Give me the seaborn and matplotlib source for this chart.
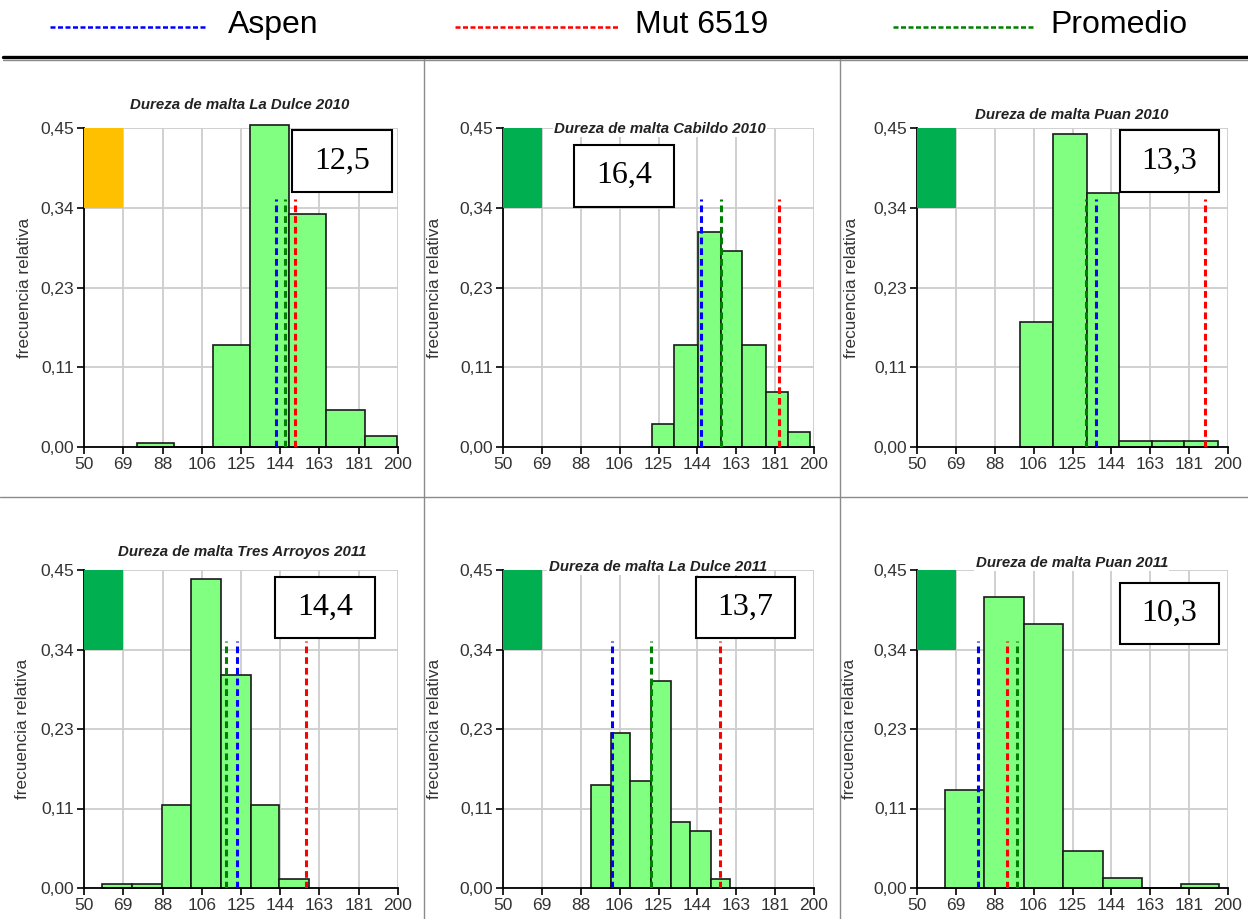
import matplotlib
matplotlib.use("Agg")
import matplotlib.pyplot as plt
import seaborn as sns
import numpy as np
import pandas as pd
from matplotlib.patches import Rectangle
from matplotlib.lines import Line2D

sns.set_theme(style="white")
plt.rcParams['font.family'] = ['Liberation Sans', 'DejaVu Sans']

# Axis scales shared by every panel
x_ticks = [50, 68.75, 87.5, 106.25, 125, 143.75, 162.5, 181.25, 200]
x_tick_labels = ["50", "69", "88", "106", "125", "144", "163", "181", "200"]
y_ticks = [0, 0.1125, 0.225, 0.3375, 0.45]
y_tick_labels = ["0,00", "0,11", "0,23", "0,34", "0,45"]

# Panel titles and the value shown in each box
titles = [
    "Dureza de malta La Dulce 2010",
    "Dureza de malta Cabildo 2010",
    "Dureza de malta Puan 2010",
    "Dureza de malta Tres Arroyos 2011",
    "Dureza de malta La Dulce 2011",
    "Dureza de malta Puan 2011",
]
box_values = ["12,5", "16,4", "13,3", "14,4", "13,7", "10,3"]
flag_colors = ["#FFC000", "#00B050", "#00B050", "#00B050", "#00B050", "#00B050"]

# Histogram bin edges and relative frequencies
edges_ld10 = [75.1, 93.2, 111.4, 129.5, 147.7, 165.8, 184.0, 199.7]
freq_ld10 = [0.006, 0.0, 0.144, 0.454, 0.328, 0.052, 0.015]

edges_cab10 = [121.9, 132.7, 144.2, 155.0, 165.5, 176.9, 187.6, 198.1]
freq_cab10 = [0.032, 0.144, 0.303, 0.277, 0.144, 0.078, 0.021]

edges_pu10 = [99.8, 115.7, 131.8, 147.3, 163.3, 178.9, 195.2]
freq_pu10 = [0.176, 0.441, 0.358, 0.008, 0.008, 0.008]

edges_ta11 = [58.8, 73.0, 87.3, 101.3, 115.5, 129.8, 143.3, 157.5]
freq_ta11 = [0.006, 0.006, 0.117, 0.437, 0.302, 0.117, 0.013]

edges_ld11 = [92.4, 101.9, 111.4, 121.2, 130.8, 140.3, 150.1, 159.6]
freq_ld11 = [0.146, 0.220, 0.152, 0.293, 0.093, 0.080, 0.013]

edges_pu11 = [63.3, 82.2, 101.6, 120.4, 139.7, 158.5, 177.5, 195.7]
freq_pu11 = [0.139, 0.412, 0.374, 0.052, 0.014, 0.0, 0.006]

all_edges = [edges_ld10, edges_cab10, edges_pu10, edges_ta11, edges_ld11, edges_pu11]
all_freqs = [freq_ld10, freq_cab10, freq_pu10, freq_ta11, freq_ld11, freq_pu11]

# Reference values: Aspen, Mut 6519 and the mean
aspen = [141.7, 145.6, 136.2, 122.9, 102.5, 79.4]
mut6519 = [151.0, 183.3, 189.1, 155.9, 154.9, 93.2]
promedio = [146.1, 155.0, 131.7, 118.0, 121.6, 98.4]

series_colors = {"Aspen": "#0000FF", "Mut 6519": "#FF0000", "Promedio": "#008000"}

W, H = 1248, 919
fig = plt.figure(figsize=(W / 100, H / 100), dpi=100)
fig.patch.set_facecolor("white")


def px_rect(left, top, right, bottom):
    return [left / W, 1 - bottom / H, (right - left) / W, (bottom - top) / H]


axes_px = [
    (84, 128, 398, 447), (503, 128, 814, 447), (917, 128, 1228, 447),
    (84, 570, 398, 888), (503, 570, 814, 888), (917, 570, 1228, 888),
]
ylabel_x = [-0.165, -0.197, -0.186, -0.172, -0.196, -0.193]
title_pos = [(0.497, 1.072), (0.505, 0.997), (0.498, 1.041),
             (0.503, 1.057), (0.498, 1.009), (0.498, 1.022)]
box_center = [(0.821, 0.897), (0.389, 0.851), (0.812, 0.897),
              (0.769, 0.882), (0.780, 0.882), (0.812, 0.863)]

for i in range(6):
    ax = fig.add_axes(px_rect(*axes_px[i]))
    edges = list(all_edges[i])
    centers = [(a + b) / 2 for a, b in zip(edges[:-1], edges[1:])]
    df = pd.DataFrame({"dureza": centers, "frecuencia": all_freqs[i]})
    sns.histplot(data=df, x="dureza", weights="frecuencia", bins=edges, ax=ax,
                 color="#80FF80", edgecolor="#1a1a1a", linewidth=1.2,
                 alpha=1.0, stat="count", zorder=2)
    # let a bar that passes the top of the scale show its full height
    for p in ax.patches:
        p.set_clip_on(False)

    # Category flag in the upper-left grid cell
    ax.add_patch(Rectangle((x_ticks[0], y_ticks[3]), x_ticks[1] - x_ticks[0],
                           y_ticks[4] - y_ticks[3], facecolor=flag_colors[i],
                           edgecolor="none", zorder=3))

    for name, vals in (("Aspen", aspen), ("Mut 6519", mut6519), ("Promedio", promedio)):
        ax.vlines(vals[i], 0, 0.35, colors=series_colors[name], linewidth=2.2,
                  linestyles=(0, (2.2, 1.3)), zorder=4)

    ax.set_xlim(50, 200)
    ax.set_ylim(0, 0.45)
    ax.set_xticks(x_ticks)
    ax.set_xticklabels(x_tick_labels)
    ax.set_yticks(y_ticks)
    ax.set_yticklabels(y_tick_labels)
    ax.grid(True, color="#cdcdcd", linewidth=1.3)
    ax.set_axisbelow(True)
    for s in ("top", "right"):
        ax.spines[s].set_visible(False)
    for s in ("left", "bottom"):
        ax.spines[s].set_color("black")
        ax.spines[s].set_linewidth(1.3)
    ax.tick_params(axis="both", direction="out", length=5, width=1.2,
                   color="black", labelsize=12.5, labelcolor="#333333", pad=2,
                   bottom=True, left=True)
    ax.set_xlabel("")
    ax.set_ylabel("frecuencia relativa", fontsize=12.3, color="#333333")
    ax.yaxis.set_label_coords(ylabel_x[i], 0.5)

    ax.text(title_pos[i][0], title_pos[i][1], titles[i], transform=ax.transAxes,
            ha="center", va="center", fontsize=10.8, fontweight="bold",
            fontstyle="italic", color="#222222", zorder=6,
            bbox=dict(facecolor="white", edgecolor="none", pad=1.0))

    bw, bh = 100 / 314, 62 / 319
    cx, cy = box_center[i]
    ax.add_patch(Rectangle((cx - bw / 2, cy - bh / 2), bw, bh, transform=ax.transAxes,
                           facecolor="white", edgecolor="black", linewidth=1.5,
                           zorder=7, clip_on=False))
    ax.text(cx, cy, box_values[i], transform=ax.transAxes, ha="center", va="center",
            fontsize=23, family=["Liberation Serif", "DejaVu Serif"], color="black",
            zorder=8)

# Header legend
def fig_line(x0, x1, y, **kw):
    fig.add_artist(Line2D([x0 / W, x1 / W], [1 - y / H, 1 - y / H],
                          transform=fig.transFigure, **kw))


legend_items = [("Aspen", 50, 205, 228), ("Mut 6519", 455, 620, 635), ("Promedio", 893, 1035, 1050)]
for name, x0, x1, xt in legend_items:
    fig_line(x0, x1, 27, color=series_colors[name], linewidth=1.8, linestyle=(0, (2.0, 1.0)))
    fig.text(xt / W, 1 - 25 / H, name, ha="left", va="center", fontsize=23, color="black")

# Frame lines separating the header and the panels
fig_line(3, 1248, 57, color="black", linewidth=2.4)
fig_line(3, 1248, 60, color="#8a8a8a", linewidth=1.0)
fig_line(0, 1248, 497, color="#8a8a8a", linewidth=1.0)
for xv in (424, 840):
    fig.add_artist(Line2D([xv / W, xv / W], [1 - 59 / H, 0], transform=fig.transFigure,
                          color="#8a8a8a", linewidth=1.0))

fig.savefig("out.png", dpi=100, facecolor="white")
